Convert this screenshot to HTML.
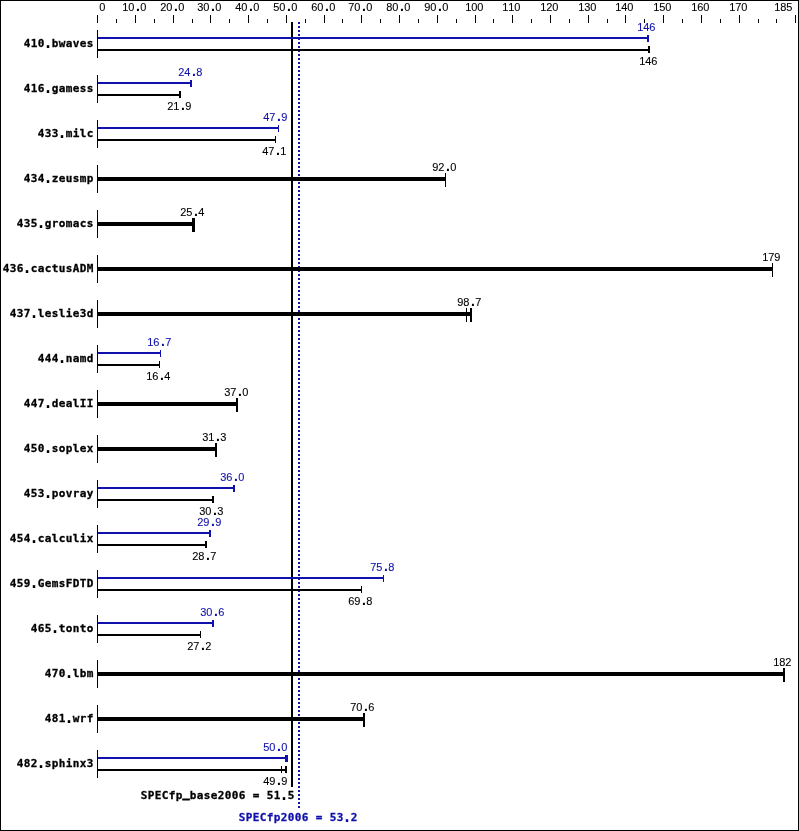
<!DOCTYPE html>
<html><head><meta charset="utf-8"><title>SPECfp2006</title>
<style>
html,body{margin:0;padding:0;background:#fff}
svg{display:block}
rect{shape-rendering:crispEdges}
text{fill:currentColor;color:#000}
.bl{color:#1010ac}
.q{font-size:15px;stroke:none}
.u{stroke-width:1px}
.p{font-weight:bold;font-size:14px;stroke:none}
.s{font-family:"Liberation Sans","DejaVu Sans",sans-serif;font-size:11px;stroke:currentColor;stroke-width:.1px}
.b{font-family:"DejaVu Sans Mono","Liberation Mono",monospace;font-size:11px;font-weight:bold;stroke:currentColor;stroke-width:.3px}
</style></head><body>
<svg width="799" height="831" viewBox="0 0 799 831">
<rect x="0" y="0" width="799" height="831" fill="#fff"/>
<rect x="0" y="0" width="799" height="1" fill="#000"/>
<rect x="0" y="830" width="799" height="1" fill="#000"/>
<rect x="0" y="0" width="1" height="831" fill="#000"/>
<rect x="798" y="0" width="1" height="831" fill="#000"/>
<rect x="97" y="15" width="1" height="8" fill="#000"/>
<rect x="116" y="19" width="1" height="4" fill="#000"/>
<rect x="135" y="15" width="1" height="8" fill="#000"/>
<rect x="154" y="19" width="1" height="4" fill="#000"/>
<rect x="173" y="15" width="1" height="8" fill="#000"/>
<rect x="192" y="19" width="1" height="4" fill="#000"/>
<rect x="210" y="15" width="1" height="8" fill="#000"/>
<rect x="229" y="19" width="1" height="4" fill="#000"/>
<rect x="248" y="15" width="1" height="8" fill="#000"/>
<rect x="267" y="19" width="1" height="4" fill="#000"/>
<rect x="286" y="15" width="1" height="8" fill="#000"/>
<rect x="305" y="19" width="1" height="4" fill="#000"/>
<rect x="324" y="15" width="1" height="8" fill="#000"/>
<rect x="342" y="19" width="1" height="4" fill="#000"/>
<rect x="361" y="15" width="1" height="8" fill="#000"/>
<rect x="380" y="19" width="1" height="4" fill="#000"/>
<rect x="399" y="15" width="1" height="8" fill="#000"/>
<rect x="418" y="19" width="1" height="4" fill="#000"/>
<rect x="437" y="15" width="1" height="8" fill="#000"/>
<rect x="456" y="19" width="1" height="4" fill="#000"/>
<rect x="475" y="15" width="1" height="8" fill="#000"/>
<rect x="493" y="19" width="1" height="4" fill="#000"/>
<rect x="512" y="15" width="1" height="8" fill="#000"/>
<rect x="531" y="19" width="1" height="4" fill="#000"/>
<rect x="550" y="15" width="1" height="8" fill="#000"/>
<rect x="569" y="19" width="1" height="4" fill="#000"/>
<rect x="588" y="15" width="1" height="8" fill="#000"/>
<rect x="607" y="19" width="1" height="4" fill="#000"/>
<rect x="625" y="15" width="1" height="8" fill="#000"/>
<rect x="644" y="19" width="1" height="4" fill="#000"/>
<rect x="663" y="15" width="1" height="8" fill="#000"/>
<rect x="682" y="19" width="1" height="4" fill="#000"/>
<rect x="701" y="15" width="1" height="8" fill="#000"/>
<rect x="720" y="19" width="1" height="4" fill="#000"/>
<rect x="739" y="15" width="1" height="8" fill="#000"/>
<rect x="758" y="19" width="1" height="4" fill="#000"/>
<rect x="776" y="19" width="1" height="4" fill="#000"/>
<rect x="795" y="15" width="1" height="8" fill="#000"/>
<text class="s" x="99.2" y="11">0</text>
<text class="s" x="122.2 128.2 136.05 140.2" y="11 11 11.0 11">10<tspan class="p">.</tspan>0</text>
<text class="s" x="160.2 166.2 174.05 178.2" y="11 11 11.0 11">20<tspan class="p">.</tspan>0</text>
<text class="s" x="197.2 203.2 211.05 215.2" y="11 11 11.0 11">30<tspan class="p">.</tspan>0</text>
<text class="s" x="235.2 241.2 249.05 253.2" y="11 11 11.0 11">40<tspan class="p">.</tspan>0</text>
<text class="s" x="273.2 279.2 287.05 291.2" y="11 11 11.0 11">50<tspan class="p">.</tspan>0</text>
<text class="s" x="311.2 317.2 325.05 329.2" y="11 11 11.0 11">60<tspan class="p">.</tspan>0</text>
<text class="s" x="348.2 354.2 362.05 366.2" y="11 11 11.0 11">70<tspan class="p">.</tspan>0</text>
<text class="s" x="386.2 392.2 400.05 404.2" y="11 11 11.0 11">80<tspan class="p">.</tspan>0</text>
<text class="s" x="424.2 430.2 438.05 442.2" y="11 11 11.0 11">90<tspan class="p">.</tspan>0</text>
<text class="s" x="465.2 471.2 477.2" y="11">100</text>
<text class="s" x="502.2 508.2 514.2" y="11">110</text>
<text class="s" x="540.2 546.2 552.2" y="11">120</text>
<text class="s" x="578.2 584.2 590.2" y="11">130</text>
<text class="s" x="615.2 621.2 627.2" y="11">140</text>
<text class="s" x="653.2 659.2 665.2" y="11">150</text>
<text class="s" x="691.2 697.2 703.2" y="11">160</text>
<text class="s" x="729.2 735.2 741.2" y="11">170</text>
<text class="s" x="774.2 780.2 786.2" y="11">185</text>
<rect x="291" y="22" width="2" height="765" fill="#000"/>
<rect x="298" y="22" width="2" height="2" fill="#1010ac"/>
<rect x="298" y="26" width="2" height="2" fill="#1010ac"/>
<rect x="298" y="30" width="2" height="2" fill="#1010ac"/>
<rect x="298" y="34" width="2" height="2" fill="#1010ac"/>
<rect x="298" y="38" width="2" height="2" fill="#1010ac"/>
<rect x="298" y="42" width="2" height="2" fill="#1010ac"/>
<rect x="298" y="46" width="2" height="2" fill="#1010ac"/>
<rect x="298" y="50" width="2" height="2" fill="#1010ac"/>
<rect x="298" y="54" width="2" height="2" fill="#1010ac"/>
<rect x="298" y="58" width="2" height="2" fill="#1010ac"/>
<rect x="298" y="62" width="2" height="2" fill="#1010ac"/>
<rect x="298" y="66" width="2" height="2" fill="#1010ac"/>
<rect x="298" y="70" width="2" height="2" fill="#1010ac"/>
<rect x="298" y="74" width="2" height="2" fill="#1010ac"/>
<rect x="298" y="78" width="2" height="2" fill="#1010ac"/>
<rect x="298" y="82" width="2" height="2" fill="#1010ac"/>
<rect x="298" y="86" width="2" height="2" fill="#1010ac"/>
<rect x="298" y="90" width="2" height="2" fill="#1010ac"/>
<rect x="298" y="94" width="2" height="2" fill="#1010ac"/>
<rect x="298" y="98" width="2" height="2" fill="#1010ac"/>
<rect x="298" y="102" width="2" height="2" fill="#1010ac"/>
<rect x="298" y="106" width="2" height="2" fill="#1010ac"/>
<rect x="298" y="110" width="2" height="2" fill="#1010ac"/>
<rect x="298" y="114" width="2" height="2" fill="#1010ac"/>
<rect x="298" y="118" width="2" height="2" fill="#1010ac"/>
<rect x="298" y="122" width="2" height="2" fill="#1010ac"/>
<rect x="298" y="126" width="2" height="2" fill="#1010ac"/>
<rect x="298" y="130" width="2" height="2" fill="#1010ac"/>
<rect x="298" y="134" width="2" height="2" fill="#1010ac"/>
<rect x="298" y="138" width="2" height="2" fill="#1010ac"/>
<rect x="298" y="142" width="2" height="2" fill="#1010ac"/>
<rect x="298" y="146" width="2" height="2" fill="#1010ac"/>
<rect x="298" y="150" width="2" height="2" fill="#1010ac"/>
<rect x="298" y="154" width="2" height="2" fill="#1010ac"/>
<rect x="298" y="158" width="2" height="2" fill="#1010ac"/>
<rect x="298" y="162" width="2" height="2" fill="#1010ac"/>
<rect x="298" y="166" width="2" height="2" fill="#1010ac"/>
<rect x="298" y="170" width="2" height="2" fill="#1010ac"/>
<rect x="298" y="174" width="2" height="2" fill="#1010ac"/>
<rect x="298" y="178" width="2" height="2" fill="#1010ac"/>
<rect x="298" y="182" width="2" height="2" fill="#1010ac"/>
<rect x="298" y="186" width="2" height="2" fill="#1010ac"/>
<rect x="298" y="190" width="2" height="2" fill="#1010ac"/>
<rect x="298" y="194" width="2" height="2" fill="#1010ac"/>
<rect x="298" y="198" width="2" height="2" fill="#1010ac"/>
<rect x="298" y="202" width="2" height="2" fill="#1010ac"/>
<rect x="298" y="206" width="2" height="2" fill="#1010ac"/>
<rect x="298" y="210" width="2" height="2" fill="#1010ac"/>
<rect x="298" y="214" width="2" height="2" fill="#1010ac"/>
<rect x="298" y="218" width="2" height="2" fill="#1010ac"/>
<rect x="298" y="222" width="2" height="2" fill="#1010ac"/>
<rect x="298" y="226" width="2" height="2" fill="#1010ac"/>
<rect x="298" y="230" width="2" height="2" fill="#1010ac"/>
<rect x="298" y="234" width="2" height="2" fill="#1010ac"/>
<rect x="298" y="238" width="2" height="2" fill="#1010ac"/>
<rect x="298" y="242" width="2" height="2" fill="#1010ac"/>
<rect x="298" y="246" width="2" height="2" fill="#1010ac"/>
<rect x="298" y="250" width="2" height="2" fill="#1010ac"/>
<rect x="298" y="254" width="2" height="2" fill="#1010ac"/>
<rect x="298" y="258" width="2" height="2" fill="#1010ac"/>
<rect x="298" y="262" width="2" height="2" fill="#1010ac"/>
<rect x="298" y="266" width="2" height="2" fill="#1010ac"/>
<rect x="298" y="270" width="2" height="2" fill="#1010ac"/>
<rect x="298" y="274" width="2" height="2" fill="#1010ac"/>
<rect x="298" y="278" width="2" height="2" fill="#1010ac"/>
<rect x="298" y="282" width="2" height="2" fill="#1010ac"/>
<rect x="298" y="286" width="2" height="2" fill="#1010ac"/>
<rect x="298" y="290" width="2" height="2" fill="#1010ac"/>
<rect x="298" y="294" width="2" height="2" fill="#1010ac"/>
<rect x="298" y="298" width="2" height="2" fill="#1010ac"/>
<rect x="298" y="302" width="2" height="2" fill="#1010ac"/>
<rect x="298" y="306" width="2" height="2" fill="#1010ac"/>
<rect x="298" y="310" width="2" height="2" fill="#1010ac"/>
<rect x="298" y="314" width="2" height="2" fill="#1010ac"/>
<rect x="298" y="318" width="2" height="2" fill="#1010ac"/>
<rect x="298" y="322" width="2" height="2" fill="#1010ac"/>
<rect x="298" y="326" width="2" height="2" fill="#1010ac"/>
<rect x="298" y="330" width="2" height="2" fill="#1010ac"/>
<rect x="298" y="334" width="2" height="2" fill="#1010ac"/>
<rect x="298" y="338" width="2" height="2" fill="#1010ac"/>
<rect x="298" y="342" width="2" height="2" fill="#1010ac"/>
<rect x="298" y="346" width="2" height="2" fill="#1010ac"/>
<rect x="298" y="350" width="2" height="2" fill="#1010ac"/>
<rect x="298" y="354" width="2" height="2" fill="#1010ac"/>
<rect x="298" y="358" width="2" height="2" fill="#1010ac"/>
<rect x="298" y="362" width="2" height="2" fill="#1010ac"/>
<rect x="298" y="366" width="2" height="2" fill="#1010ac"/>
<rect x="298" y="370" width="2" height="2" fill="#1010ac"/>
<rect x="298" y="374" width="2" height="2" fill="#1010ac"/>
<rect x="298" y="378" width="2" height="2" fill="#1010ac"/>
<rect x="298" y="382" width="2" height="2" fill="#1010ac"/>
<rect x="298" y="386" width="2" height="2" fill="#1010ac"/>
<rect x="298" y="390" width="2" height="2" fill="#1010ac"/>
<rect x="298" y="394" width="2" height="2" fill="#1010ac"/>
<rect x="298" y="398" width="2" height="2" fill="#1010ac"/>
<rect x="298" y="402" width="2" height="2" fill="#1010ac"/>
<rect x="298" y="406" width="2" height="2" fill="#1010ac"/>
<rect x="298" y="410" width="2" height="2" fill="#1010ac"/>
<rect x="298" y="414" width="2" height="2" fill="#1010ac"/>
<rect x="298" y="418" width="2" height="2" fill="#1010ac"/>
<rect x="298" y="422" width="2" height="2" fill="#1010ac"/>
<rect x="298" y="426" width="2" height="2" fill="#1010ac"/>
<rect x="298" y="430" width="2" height="2" fill="#1010ac"/>
<rect x="298" y="434" width="2" height="2" fill="#1010ac"/>
<rect x="298" y="438" width="2" height="2" fill="#1010ac"/>
<rect x="298" y="442" width="2" height="2" fill="#1010ac"/>
<rect x="298" y="446" width="2" height="2" fill="#1010ac"/>
<rect x="298" y="450" width="2" height="2" fill="#1010ac"/>
<rect x="298" y="454" width="2" height="2" fill="#1010ac"/>
<rect x="298" y="458" width="2" height="2" fill="#1010ac"/>
<rect x="298" y="462" width="2" height="2" fill="#1010ac"/>
<rect x="298" y="466" width="2" height="2" fill="#1010ac"/>
<rect x="298" y="470" width="2" height="2" fill="#1010ac"/>
<rect x="298" y="474" width="2" height="2" fill="#1010ac"/>
<rect x="298" y="478" width="2" height="2" fill="#1010ac"/>
<rect x="298" y="482" width="2" height="2" fill="#1010ac"/>
<rect x="298" y="486" width="2" height="2" fill="#1010ac"/>
<rect x="298" y="490" width="2" height="2" fill="#1010ac"/>
<rect x="298" y="494" width="2" height="2" fill="#1010ac"/>
<rect x="298" y="498" width="2" height="2" fill="#1010ac"/>
<rect x="298" y="502" width="2" height="2" fill="#1010ac"/>
<rect x="298" y="506" width="2" height="2" fill="#1010ac"/>
<rect x="298" y="510" width="2" height="2" fill="#1010ac"/>
<rect x="298" y="514" width="2" height="2" fill="#1010ac"/>
<rect x="298" y="518" width="2" height="2" fill="#1010ac"/>
<rect x="298" y="522" width="2" height="2" fill="#1010ac"/>
<rect x="298" y="526" width="2" height="2" fill="#1010ac"/>
<rect x="298" y="530" width="2" height="2" fill="#1010ac"/>
<rect x="298" y="534" width="2" height="2" fill="#1010ac"/>
<rect x="298" y="538" width="2" height="2" fill="#1010ac"/>
<rect x="298" y="542" width="2" height="2" fill="#1010ac"/>
<rect x="298" y="546" width="2" height="2" fill="#1010ac"/>
<rect x="298" y="550" width="2" height="2" fill="#1010ac"/>
<rect x="298" y="554" width="2" height="2" fill="#1010ac"/>
<rect x="298" y="558" width="2" height="2" fill="#1010ac"/>
<rect x="298" y="562" width="2" height="2" fill="#1010ac"/>
<rect x="298" y="566" width="2" height="2" fill="#1010ac"/>
<rect x="298" y="570" width="2" height="2" fill="#1010ac"/>
<rect x="298" y="574" width="2" height="2" fill="#1010ac"/>
<rect x="298" y="578" width="2" height="2" fill="#1010ac"/>
<rect x="298" y="582" width="2" height="2" fill="#1010ac"/>
<rect x="298" y="586" width="2" height="2" fill="#1010ac"/>
<rect x="298" y="590" width="2" height="2" fill="#1010ac"/>
<rect x="298" y="594" width="2" height="2" fill="#1010ac"/>
<rect x="298" y="598" width="2" height="2" fill="#1010ac"/>
<rect x="298" y="602" width="2" height="2" fill="#1010ac"/>
<rect x="298" y="606" width="2" height="2" fill="#1010ac"/>
<rect x="298" y="610" width="2" height="2" fill="#1010ac"/>
<rect x="298" y="614" width="2" height="2" fill="#1010ac"/>
<rect x="298" y="618" width="2" height="2" fill="#1010ac"/>
<rect x="298" y="622" width="2" height="2" fill="#1010ac"/>
<rect x="298" y="626" width="2" height="2" fill="#1010ac"/>
<rect x="298" y="630" width="2" height="2" fill="#1010ac"/>
<rect x="298" y="634" width="2" height="2" fill="#1010ac"/>
<rect x="298" y="638" width="2" height="2" fill="#1010ac"/>
<rect x="298" y="642" width="2" height="2" fill="#1010ac"/>
<rect x="298" y="646" width="2" height="2" fill="#1010ac"/>
<rect x="298" y="650" width="2" height="2" fill="#1010ac"/>
<rect x="298" y="654" width="2" height="2" fill="#1010ac"/>
<rect x="298" y="658" width="2" height="2" fill="#1010ac"/>
<rect x="298" y="662" width="2" height="2" fill="#1010ac"/>
<rect x="298" y="666" width="2" height="2" fill="#1010ac"/>
<rect x="298" y="670" width="2" height="2" fill="#1010ac"/>
<rect x="298" y="674" width="2" height="2" fill="#1010ac"/>
<rect x="298" y="678" width="2" height="2" fill="#1010ac"/>
<rect x="298" y="682" width="2" height="2" fill="#1010ac"/>
<rect x="298" y="686" width="2" height="2" fill="#1010ac"/>
<rect x="298" y="690" width="2" height="2" fill="#1010ac"/>
<rect x="298" y="694" width="2" height="2" fill="#1010ac"/>
<rect x="298" y="698" width="2" height="2" fill="#1010ac"/>
<rect x="298" y="702" width="2" height="2" fill="#1010ac"/>
<rect x="298" y="706" width="2" height="2" fill="#1010ac"/>
<rect x="298" y="710" width="2" height="2" fill="#1010ac"/>
<rect x="298" y="714" width="2" height="2" fill="#1010ac"/>
<rect x="298" y="718" width="2" height="2" fill="#1010ac"/>
<rect x="298" y="722" width="2" height="2" fill="#1010ac"/>
<rect x="298" y="726" width="2" height="2" fill="#1010ac"/>
<rect x="298" y="730" width="2" height="2" fill="#1010ac"/>
<rect x="298" y="734" width="2" height="2" fill="#1010ac"/>
<rect x="298" y="738" width="2" height="2" fill="#1010ac"/>
<rect x="298" y="742" width="2" height="2" fill="#1010ac"/>
<rect x="298" y="746" width="2" height="2" fill="#1010ac"/>
<rect x="298" y="750" width="2" height="2" fill="#1010ac"/>
<rect x="298" y="754" width="2" height="2" fill="#1010ac"/>
<rect x="298" y="758" width="2" height="2" fill="#1010ac"/>
<rect x="298" y="762" width="2" height="2" fill="#1010ac"/>
<rect x="298" y="766" width="2" height="2" fill="#1010ac"/>
<rect x="298" y="770" width="2" height="2" fill="#1010ac"/>
<rect x="298" y="774" width="2" height="2" fill="#1010ac"/>
<rect x="298" y="778" width="2" height="2" fill="#1010ac"/>
<rect x="298" y="782" width="2" height="2" fill="#1010ac"/>
<rect x="298" y="786" width="2" height="2" fill="#1010ac"/>
<rect x="298" y="790" width="2" height="2" fill="#1010ac"/>
<rect x="298" y="794" width="2" height="2" fill="#1010ac"/>
<rect x="298" y="798" width="2" height="2" fill="#1010ac"/>
<rect x="298" y="802" width="2" height="2" fill="#1010ac"/>
<rect x="298" y="806" width="2" height="2" fill="#1010ac"/>
<rect x="97" y="30" width="1" height="28" fill="#000"/>
<text class="b" x="23.8 30.8 37.8 43.6 51.8 58.8 65.8 72.8 79.8 86.8" y="47 47 47 48 47 47 47 47 47 47">410<tspan class="q">.</tspan>bwaves</text>
<rect x="98" y="37" width="550" height="2" fill="#1010ac"/>
<rect x="647" y="35" width="2" height="7" fill="#1010ac"/>
<text class="s bl" x="637.2 643.2 649.2" y="31">146</text>
<rect x="98" y="49" width="551" height="2" fill="#000"/>
<rect x="648" y="46" width="2" height="7" fill="#000"/>
<text class="s" x="639.2 645.2 651.2" y="65">146</text>
<rect x="97" y="75" width="1" height="28" fill="#000"/>
<text class="b" x="23.8 30.8 37.8 43.6 51.8 58.8 65.8 72.8 79.8 86.8" y="92 92 92 93 92 92 92 92 92 92">416<tspan class="q">.</tspan>gamess</text>
<rect x="98" y="82" width="93" height="2" fill="#1010ac"/>
<rect x="190" y="80" width="2" height="7" fill="#1010ac"/>
<text class="s bl" x="178.2 184.2 192.05 196.2" y="76 76 76.0 76">24<tspan class="p">.</tspan>8</text>
<rect x="98" y="94" width="82" height="2" fill="#000"/>
<rect x="179" y="91" width="2" height="7" fill="#000"/>
<text class="s" x="167.2 173.2 181.05 185.2" y="110 110 110.0 110">21<tspan class="p">.</tspan>9</text>
<rect x="97" y="120" width="1" height="28" fill="#000"/>
<text class="b" x="37.8 44.8 51.8 57.6 65.8 72.8 79.8 86.8" y="137 137 137 138 137 137 137 137">433<tspan class="q">.</tspan>milc</text>
<rect x="98" y="127" width="181" height="2" fill="#1010ac"/>
<rect x="278" y="125" width="1" height="7" fill="#1010ac"/>
<text class="s bl" x="263.2 269.2 277.05 281.2" y="121 121 121.0 121">47<tspan class="p">.</tspan>9</text>
<rect x="98" y="139" width="178" height="2" fill="#000"/>
<rect x="275" y="136" width="1" height="7" fill="#000"/>
<text class="s" x="262.2 268.2 276.05 280.2" y="155 155 155.0 155">47<tspan class="p">.</tspan>1</text>
<rect x="97" y="165" width="1" height="28" fill="#000"/>
<text class="b" x="23.8 30.8 37.8 43.6 51.8 58.8 65.8 72.8 79.8 86.8" y="182 182 182 183 182 182 182 182 182 182">434<tspan class="q">.</tspan>zeusmp</text>
<rect x="98" y="177" width="348" height="4" fill="#000"/>
<rect x="445" y="173" width="1" height="14" fill="#000"/>
<text class="s" x="432.2 438.2 446.05 450.2" y="171 171 171.0 171">92<tspan class="p">.</tspan>0</text>
<rect x="97" y="210" width="1" height="28" fill="#000"/>
<text class="b" x="16.8 23.8 30.8 36.6 44.8 51.8 58.8 65.8 72.8 79.8 86.8" y="227 227 227 228 227 227 227 227 227 227 227">435<tspan class="q">.</tspan>gromacs</text>
<rect x="98" y="222" width="95" height="4" fill="#000"/>
<rect x="192" y="218" width="3" height="14" fill="#000"/>
<text class="s" x="180.2 186.2 194.05 198.2" y="216 216 216.0 216">25<tspan class="p">.</tspan>4</text>
<rect x="97" y="255" width="1" height="28" fill="#000"/>
<text class="b" x="2.8 9.8 16.8 22.6 30.8 37.8 44.8 51.8 58.8 65.8 72.8 79.8 86.8" y="272 272 272 273 272 272 272 272 272 272 272 272 272">436<tspan class="q">.</tspan>cactusADM</text>
<rect x="98" y="267" width="675" height="4" fill="#000"/>
<rect x="772" y="263" width="1" height="14" fill="#000"/>
<text class="s" x="762.2 768.2 774.2" y="261">179</text>
<rect x="97" y="300" width="1" height="28" fill="#000"/>
<text class="b" x="9.8 16.8 23.8 29.6 37.8 44.8 51.8 58.8 65.8 72.8 79.8 86.8" y="317 317 317 318 317 317 317 317 317 317 317 317">437<tspan class="q">.</tspan>leslie3d</text>
<rect x="98" y="312" width="373" height="4" fill="#000"/>
<rect x="466" y="308" width="1" height="14" fill="#000"/>
<rect x="470" y="308" width="2" height="14" fill="#000"/>
<text class="s" x="457.2 463.2 471.05 475.2" y="306 306 306.0 306">98<tspan class="p">.</tspan>7</text>
<rect x="97" y="345" width="1" height="28" fill="#000"/>
<text class="b" x="37.8 44.8 51.8 57.6 65.8 72.8 79.8 86.8" y="362 362 362 363 362 362 362 362">444<tspan class="q">.</tspan>namd</text>
<rect x="98" y="352" width="63" height="2" fill="#1010ac"/>
<rect x="160" y="350" width="1" height="7" fill="#1010ac"/>
<text class="s bl" x="147.2 153.2 161.05 165.2" y="346 346 346.0 346">16<tspan class="p">.</tspan>7</text>
<rect x="98" y="364" width="62" height="2" fill="#000"/>
<rect x="159" y="361" width="1" height="7" fill="#000"/>
<text class="s" x="146.2 152.2 160.05 164.2" y="380 380 380.0 380">16<tspan class="p">.</tspan>4</text>
<rect x="97" y="390" width="1" height="28" fill="#000"/>
<text class="b" x="23.8 30.8 37.8 43.6 51.8 58.8 65.8 72.8 79.8 86.8" y="407 407 407 408 407 407 407 407 407 407">447<tspan class="q">.</tspan>dealII</text>
<rect x="98" y="402" width="139" height="4" fill="#000"/>
<rect x="236" y="398" width="2" height="14" fill="#000"/>
<text class="s" x="224.2 230.2 238.05 242.2" y="396 396 396.0 396">37<tspan class="p">.</tspan>0</text>
<rect x="97" y="435" width="1" height="28" fill="#000"/>
<text class="b" x="23.8 30.8 37.8 43.6 51.8 58.8 65.8 72.8 79.8 86.8" y="452 452 452 453 452 452 452 452 452 452">450<tspan class="q">.</tspan>soplex</text>
<rect x="98" y="447" width="118" height="4" fill="#000"/>
<rect x="215" y="443" width="2" height="14" fill="#000"/>
<text class="s" x="202.2 208.2 216.05 220.2" y="441 441 441.0 441">31<tspan class="p">.</tspan>3</text>
<rect x="97" y="480" width="1" height="28" fill="#000"/>
<text class="b" x="23.8 30.8 37.8 43.6 51.8 58.8 65.8 72.8 79.8 86.8" y="497 497 497 498 497 497 497 497 497 497">453<tspan class="q">.</tspan>povray</text>
<rect x="98" y="487" width="136" height="2" fill="#1010ac"/>
<rect x="233" y="485" width="2" height="7" fill="#1010ac"/>
<text class="s bl" x="220.2 226.2 234.05 238.2" y="481 481 481.0 481">36<tspan class="p">.</tspan>0</text>
<rect x="98" y="499" width="115" height="2" fill="#000"/>
<rect x="212" y="496" width="2" height="7" fill="#000"/>
<text class="s" x="199.2 205.2 213.05 217.2" y="515 515 515.0 515">30<tspan class="p">.</tspan>3</text>
<rect x="97" y="525" width="1" height="28" fill="#000"/>
<text class="b" x="9.8 16.8 23.8 29.6 37.8 44.8 51.8 58.8 65.8 72.8 79.8 86.8" y="542 542 542 543 542 542 542 542 542 542 542 542">454<tspan class="q">.</tspan>calculix</text>
<rect x="98" y="532" width="112" height="2" fill="#1010ac"/>
<rect x="209" y="530" width="2" height="7" fill="#1010ac"/>
<text class="s bl" x="197.2 203.2 211.05 215.2" y="526 526 526.0 526">29<tspan class="p">.</tspan>9</text>
<rect x="98" y="544" width="108" height="2" fill="#000"/>
<rect x="205" y="541" width="2" height="7" fill="#000"/>
<text class="s" x="192.2 198.2 206.05 210.2" y="560 560 560.0 560">28<tspan class="p">.</tspan>7</text>
<rect x="97" y="570" width="1" height="28" fill="#000"/>
<text class="b" x="9.8 16.8 23.8 29.6 37.8 44.8 51.8 58.8 65.8 72.8 79.8 86.8" y="587 587 587 588 587 587 587 587 587 587 587 587">459<tspan class="q">.</tspan>GemsFDTD</text>
<rect x="98" y="577" width="286" height="2" fill="#1010ac"/>
<rect x="383" y="575" width="1" height="7" fill="#1010ac"/>
<text class="s bl" x="370.2 376.2 384.05 388.2" y="571 571 571.0 571">75<tspan class="p">.</tspan>8</text>
<rect x="98" y="589" width="264" height="2" fill="#000"/>
<rect x="361" y="586" width="1" height="7" fill="#000"/>
<text class="s" x="348.2 354.2 362.05 366.2" y="605 605 605.0 605">69<tspan class="p">.</tspan>8</text>
<rect x="97" y="615" width="1" height="28" fill="#000"/>
<text class="b" x="30.8 37.8 44.8 50.6 58.8 65.8 72.8 79.8 86.8" y="632 632 632 633 632 632 632 632 632">465<tspan class="q">.</tspan>tonto</text>
<rect x="98" y="622" width="115" height="2" fill="#1010ac"/>
<rect x="212" y="620" width="2" height="7" fill="#1010ac"/>
<text class="s bl" x="200.2 206.2 214.05 218.2" y="616 616 616.0 616">30<tspan class="p">.</tspan>6</text>
<rect x="98" y="634" width="103" height="2" fill="#000"/>
<rect x="200" y="631" width="1" height="7" fill="#000"/>
<text class="s" x="187.2 193.2 201.05 205.2" y="650 650 650.0 650">27<tspan class="p">.</tspan>2</text>
<rect x="97" y="660" width="1" height="28" fill="#000"/>
<text class="b" x="44.8 51.8 58.8 64.6 72.8 79.8 86.8" y="677 677 677 678 677 677 677">470<tspan class="q">.</tspan>lbm</text>
<rect x="98" y="672" width="686" height="4" fill="#000"/>
<rect x="783" y="668" width="2" height="14" fill="#000"/>
<text class="s" x="773.2 779.2 785.2" y="666">182</text>
<rect x="97" y="705" width="1" height="28" fill="#000"/>
<text class="b" x="44.8 51.8 58.8 64.6 72.8 79.8 86.8" y="722 722 722 723 722 722 722">481<tspan class="q">.</tspan>wrf</text>
<rect x="98" y="717" width="266" height="4" fill="#000"/>
<rect x="363" y="713" width="2" height="14" fill="#000"/>
<text class="s" x="350.2 356.2 364.05 368.2" y="711 711 711.0 711">70<tspan class="p">.</tspan>6</text>
<rect x="97" y="750" width="1" height="28" fill="#000"/>
<text class="b" x="16.8 23.8 30.8 36.6 44.8 51.8 58.8 65.8 72.8 79.8 86.8" y="767 767 767 768 767 767 767 767 767 767 767">482<tspan class="q">.</tspan>sphinx3</text>
<rect x="98" y="757" width="188" height="2" fill="#1010ac"/>
<rect x="285" y="755" width="3" height="7" fill="#1010ac"/>
<text class="s bl" x="263.2 269.2 277.05 281.2" y="751 751 751.0 751">50<tspan class="p">.</tspan>0</text>
<rect x="98" y="769" width="188" height="2" fill="#000"/>
<rect x="281" y="766" width="1" height="7" fill="#000"/>
<rect x="285" y="766" width="2" height="7" fill="#000"/>
<text class="s" x="263.2 269.2 277.05 281.2" y="785 785 785.0 785">49<tspan class="p">.</tspan>9</text>
<text class="b" x="140.8 147.8 154.8 161.8 168.8 175.8 182.8 189.8 196.8 203.8 210.8 217.8 224.8 231.8 238.8 245.8 252.8 259.8 266.8 273.8 279.6 287.8" y="799 799 799 799 799 799 797 799 799 799 799 799 799 799 799 799 799 799 799 799 800 799">SPECfp<tspan class="u">_</tspan>base2006 = 51<tspan class="q">.</tspan>5</text>
<text class="b bl" x="238.8 245.8 252.8 259.8 266.8 273.8 280.8 287.8 294.8 301.8 308.8 315.8 322.8 329.8 336.8 342.6 350.8" y="821 821 821 821 821 821 821 821 821 821 821 821 821 821 821 822 821">SPECfp2006 = 53<tspan class="q">.</tspan>2</text>
</svg>
</body></html>
